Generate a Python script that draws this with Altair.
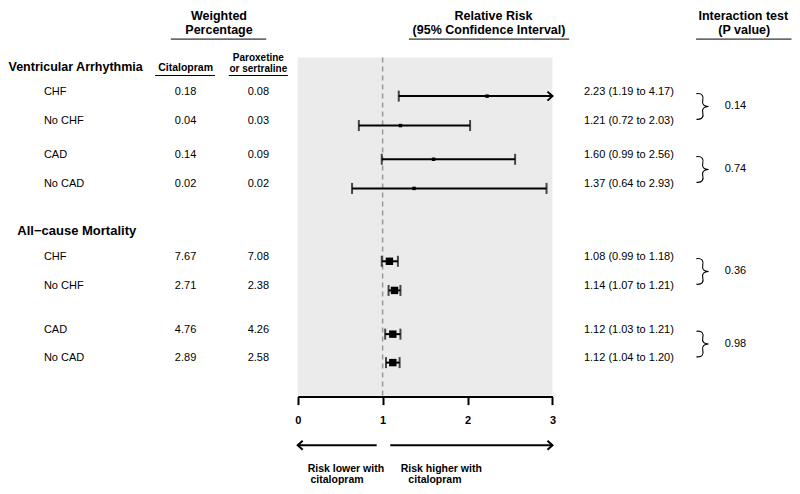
import altair as alt
import pandas as pd

# ---------------- data ----------------
sections = ["Ventricular Arrhythmia", "All\u2212cause Mortality"]
subgroups = ["CHF", "No CHF", "CAD", "No CAD"]
pct_citalopram = [0.18, 0.04, 0.14, 0.02, 7.67, 2.71, 4.76, 2.89]
pct_paroxetine_sertraline = [0.08, 0.03, 0.09, 0.02, 7.08, 2.38, 4.26, 2.58]
rr = [2.23, 1.21, 1.60, 1.37, 1.08, 1.14, 1.12, 1.12]
rr_lo = [1.19, 0.72, 0.99, 0.64, 0.99, 1.07, 1.03, 1.04]
rr_hi = [4.17, 2.03, 2.56, 2.93, 1.18, 1.21, 1.21, 1.20]
p_interaction = ["0.14", "0.74", "0.36", "0.98"]
x_ticks = [0, 1, 2, 3]
x_max = 3

# ---------------- layout (positions in reference-page pixels) ----------------
FONT = "Liberation Sans"
W, H = 784, 478
X_DOM = [2.5, 799.5]      # reference x range shown across the chart width
Y_DOM = [1.0, 493.0]      # reference y range shown across the chart height


def map_x(v):
    return (v - X_DOM[0]) * W / (X_DOM[1] - X_DOM[0])


def map_y(v):
    return (v - Y_DOM[0]) * H / (Y_DOM[1] - Y_DOM[0])


row_y = [91.7, 122.0, 156.7, 186.7, 261.7, 291.7, 336.7, 366.0]
section_y = [62.0, 230.7]
panel_top, panel_bottom = 52.0, 400.0
axis_y = 401.0
arrow_y = 451.0
TEXT_DY = -4.5

xr = alt.Scale(domain=[0, x_max], range=[map_x(297), map_x(556)], nice=False, zero=False)
xp = alt.Scale(domain=X_DOM, range=[0, W], nice=False, zero=False)
ys = alt.Scale(domain=Y_DOM, range=[0, H], nice=False, zero=False)

XR = lambda f: alt.X(f, type="quantitative", scale=xr, axis=None)
XP = lambda f: alt.X(f, type="quantitative", scale=xp, axis=None)
Y = lambda f: alt.Y(f, type="quantitative", scale=ys, axis=None)

forest = pd.DataFrame({
    "section": [s for s in sections for _ in subgroups],
    "subgroup": subgroups * 2,
    "rr": rr, "lo": rr_lo, "hi": rr_hi, "y": row_y,
})
forest["hi_draw"] = forest["hi"].clip(upper=x_max)
forest["ty"] = forest["y"] + TEXT_DY
forest["ci_txt"] = [f"{a:.2f} ({b:.2f} to {c:.2f})" for a, b, c in zip(rr, rr_lo, rr_hi)]

caps = pd.concat([
    forest[["lo", "y"]].rename(columns={"lo": "x"}),
    forest.loc[forest["hi"] <= x_max, ["hi", "y"]].rename(columns={"hi": "x"}),
])

RIGHT = "M-1,-0.9L0,0L-1,0.9"
LEFT = "M1,-0.9L0,0L1,0.9"
heads = forest.loc[forest["hi"] > x_max, ["y"]].assign(x=x_max, shape=RIGHT)
heads = pd.concat([heads, pd.DataFrame({"x": [0, x_max], "y": [arrow_y] * 2,
                                        "shape": [LEFT, RIGHT]})])
shafts = pd.DataFrame({"x0": [0, 1.09], "x1": [0.93, x_max], "y": [arrow_y] * 2})

panel_df = pd.DataFrame({"x0": [0], "x1": [x_max], "y0": [panel_top], "y1": [panel_bottom]})
ref_df = pd.DataFrame({"x": [1], "y0": [panel_top], "y1": [axis_y + 2]})

pair_y = [(row_y[i] + row_y[i + 1]) / 2 + TEXT_DY for i in range(0, 8, 2)]

# texts
reg_left = pd.concat([
    pd.DataFrame({"x": 39, "y": forest["ty"], "t": forest["subgroup"]}),
    pd.DataFrame({"x": 588, "y": forest["ty"], "t": forest["ci_txt"]}),
])
reg_center = pd.concat([
    pd.DataFrame({"x": 183, "y": forest["ty"], "t": [f"{v:.2f}" for v in pct_citalopram]}),
    pd.DataFrame({"x": 257, "y": forest["ty"], "t": [f"{v:.2f}" for v in pct_paroxetine_sertraline]}),
    pd.DataFrame({"x": 742, "y": pair_y, "t": p_interaction}),
])
bold_center = pd.DataFrame([
    (217, 9.5, "Weighted", 12.5), (217, 24, "Percentage", 12.5),
    (496, 9.5, "Relative Risk", 12.5), (491.5, 24, "(95% Confidence Interval)", 12.5),
    (750, 9.5, "Interaction test", 12.5), (751, 24, "(P value)", 12.5),
    (183, 63, "Citalopram", 10.5), (257, 52.5, "Paroxetine", 10), (257, 63.5, "or sertraline", 10),
    (346, 475, "Risk lower with", 10.5), (337, 487, "citalopram", 10.5),
    (443, 475, "Risk higher with", 10.5), (436.5, 487, "citalopram", 10.5),
], columns=["x", "y", "t", "fs"])
bold_left = pd.DataFrame({"x": [3, 12], "y": section_y, "t": sections, "fs": [12.5, 13]})

underlines = pd.DataFrame({
    "x0": [168, 410, 702, 152, 227],
    "x1": [265, 573, 799, 213, 287],
    "y": [33, 33, 33, 70.5, 70.5],
})

BRACE = ("M-0.45,-0.95C0,-1 0.1,-0.75 0.02,-0.45C-0.05,-0.15 0.1,-0.02 0.45,0"
         "C0.1,0.02 -0.05,0.15 0.02,0.45C0.1,0.75 0,1 -0.45,0.95")
braces = pd.DataFrame({"x": 708.5, "y": pair_y})

# ---------------- layers ----------------
panel = alt.Chart(panel_df).mark_rect(color="#ebebeb").encode(
    x=XR("x0"), x2="x1", y=Y("y0"), y2="y1")
dash = alt.Chart(ref_df).mark_rule(color="#9a9a9a", strokeWidth=1.5, strokeDash=[5, 4]).encode(
    x=XR("x"), y=Y("y0"), y2="y1")
ci = alt.Chart(forest).mark_rule(color="black", strokeWidth=2).encode(
    x=alt.X("lo:Q", scale=xr, axis=alt.Axis(
        values=x_ticks, format="d", orient="bottom", offset=map_y(axis_y) - H,
        domainColor="black", domainWidth=2, tickColor="black", tickWidth=2, tickSize=8,
        labelFont=FONT, labelFontWeight="bold", labelFontSize=11, labelColor="black",
        labelPadding=10, labelFlush=False, grid=False, title=None)),
    x2="hi_draw", y=Y("y"))
cap_l = alt.Chart(caps).mark_tick(color="black", orient="vertical", size=11, thickness=2).encode(
    x=XR("x"), y=Y("y"))
head_l = alt.Chart(heads).mark_point(filled=False, color="black", strokeWidth=2, size=100,
                                     opacity=1).encode(
    x=XR("x"), y=Y("y"), shape=alt.Shape("shape:N", scale=None, legend=None))
squares = alt.Chart(forest).mark_square(color="black", opacity=1).encode(
    x=XR("rr"), y=Y("y"),
    size=alt.Size("section:N", scale=alt.Scale(domain=sections, range=[12, 55]), legend=None))
shaft_l = alt.Chart(shafts).mark_rule(color="black", strokeWidth=2).encode(
    x=XR("x0"), x2="x1", y=Y("y"))
under_l = alt.Chart(underlines).mark_rule(color="black", strokeWidth=1).encode(
    x=XP("x0"), x2="x1", y=Y("y"))
brace_l = alt.Chart(braces).mark_point(shape=BRACE, filled=False, color="black", strokeWidth=1.1,
                                       size=729, opacity=1).encode(x=XP("x"), y=Y("y"))
t_left = alt.Chart(reg_left).mark_text(align="left", baseline="middle", fontSize=11,
                                       color="black", font=FONT).encode(
    x=XP("x"), y=Y("y"), text="t:N")
t_center = alt.Chart(reg_center).mark_text(align="center", baseline="middle", fontSize=11,
                                           color="black", font=FONT).encode(
    x=XP("x"), y=Y("y"), text="t:N")
b_center = alt.Chart(bold_center).mark_text(align="center", baseline="middle", fontWeight="bold",
                                            color="black", font=FONT).encode(
    x=XP("x"), y=Y("y"), text="t:N", size=alt.Size("fs:Q", scale=None, legend=None))
b_left = alt.Chart(bold_left).mark_text(align="left", baseline="middle", fontWeight="bold",
                                        color="black", font=FONT).encode(
    x=XP("x"), y=Y("y"), text="t:N", size=alt.Size("fs:Q", scale=None, legend=None))

chart = alt.layer(
    panel, dash, ci, cap_l, head_l, squares, shaft_l, under_l, brace_l,
    t_left, t_center, b_center, b_left,
).resolve_scale(x="independent").properties(
    width=W, height=H, padding=0, autosize=alt.AutoSizeParams(type="none"),
    background="white",
).configure(font=FONT).configure_view(stroke=None)

chart.save("out.html", embed_options={"renderer": "svg", "actions": False})
